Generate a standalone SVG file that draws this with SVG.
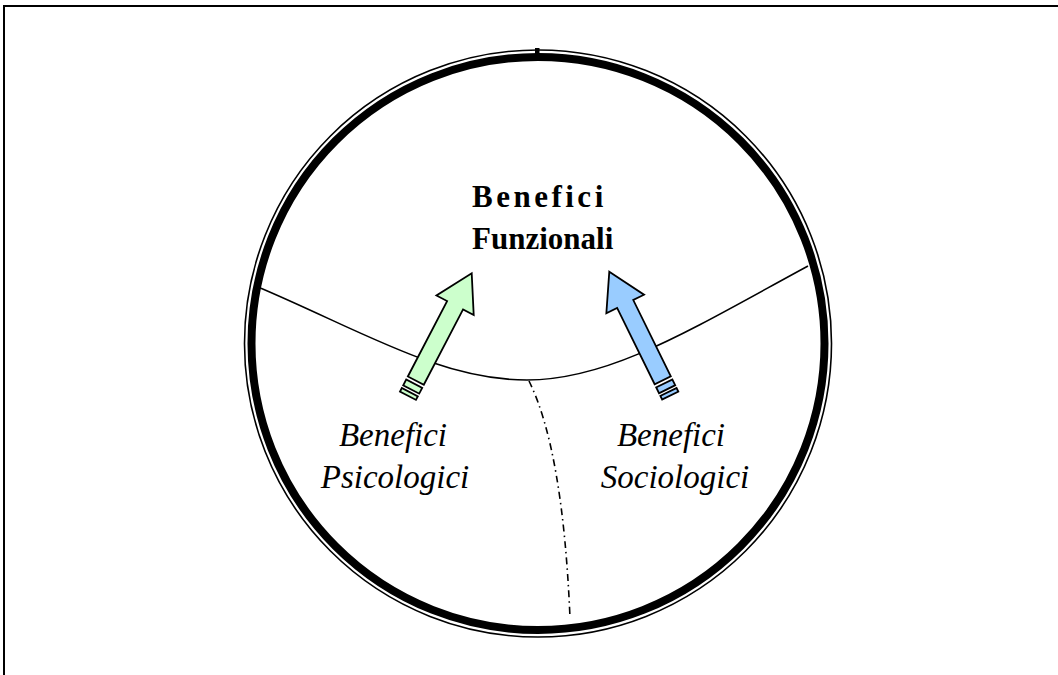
<svg xmlns="http://www.w3.org/2000/svg" width="1058" height="675" viewBox="0 0 1058 675">
  <style>
    .frame { fill: none; stroke: #000; stroke-width: 2; }
    .edge { fill: none; stroke: #000; stroke-width: 1.6; }
    .dashdot { fill: none; stroke: #000; stroke-width: 1.6; stroke-dasharray: 7 4 1.5 4; }
    .arrow { stroke: #000; stroke-width: 1.8; stroke-linejoin: miter; }
    .green { fill: #ccffcc; }
    .blue { fill: #99ccff; }
    .title { font-family: "Liberation Serif", "Times New Roman", serif; font-weight: bold; font-size: 31px; fill: #000; }
    .side { font-family: "Liberation Serif", "Times New Roman", serif; font-style: italic; font-size: 33px; fill: #000; text-anchor: middle; }
  </style>
  <defs>
    <!-- block arrow pointing up, tip at the origin, with two tail stripes -->
    <g id="blockArrow">
      <path d="M0,0 L21,36 L9,36 L9,121 L-9,121 L-9,36 L-21,36 Z"/>
      <rect x="-9" y="124.5" width="18" height="6.5"/>
      <rect x="-9" y="134" width="18" height="4"/>
    </g>
  </defs>

  <rect width="1058" height="675" fill="#fff"/>

  <!-- page frame -->
  <path class="frame" d="M4,675 L4,6 L1058,6"/>

  <!-- outer double ring -->
  <g id="ring">
    <circle cx="538" cy="343.5" r="293.5" fill="none" stroke="#000" stroke-width="1.6"/>
    <circle cx="538" cy="343.5" r="286.5" fill="none" stroke="#000" stroke-width="8"/>
    <rect x="535" y="48" width="4.5" height="10" fill="#000"/>
  </g>

  <g id="connectors">
    <path class="edge" d="M258,287 C360,330 440,380 527,380 C610,380 690,330 808,266"/>
    <path class="dashdot" d="M529,381 Q563,450 570,618"/>
  </g>

  <g id="node-funzionali">
    <text class="title" x="472" y="207" letter-spacing="3.5">Benefici</text>
    <text class="title" x="472" y="249">Funzionali</text>
  </g>

  <g id="arrow-psicologici" class="arrow green">
    <use href="#blockArrow" transform="translate(471.7,273.3) rotate(27.5)"/>
  </g>

  <g id="arrow-sociologici" class="arrow blue">
    <use href="#blockArrow" transform="translate(609.3,271.7) rotate(-26.2)"/>
  </g>

  <g id="node-psicologici">
    <text class="side" x="393" y="446">Benefici</text>
    <text class="side" x="395" y="488">Psicologici</text>
  </g>

  <g id="node-sociologici">
    <text class="side" x="671" y="446">Benefici</text>
    <text class="side" x="675" y="488">Sociologici</text>
  </g>
</svg>
